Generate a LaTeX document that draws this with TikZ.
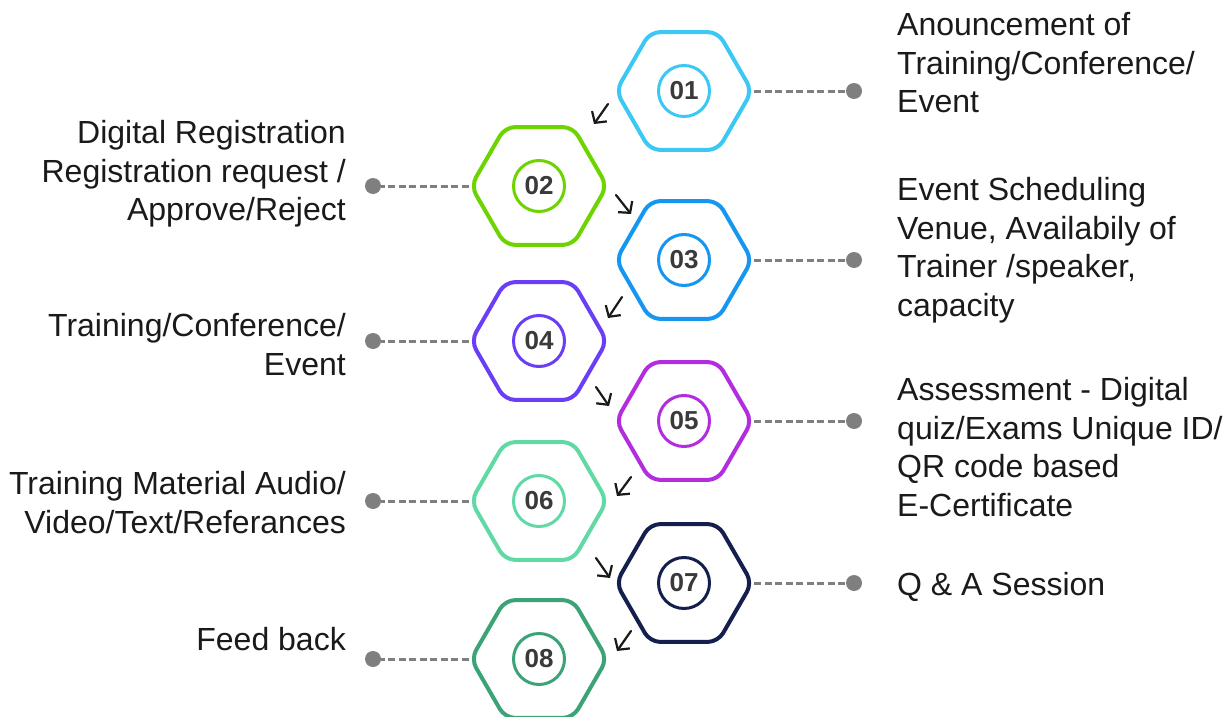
\documentclass[tikz,border=0pt]{standalone}
\usepackage{fontspec}
\setmainfont{Liberation Sans}
\usepackage{xcolor}
\usetikzlibrary{shapes.geometric,arrows.meta}
\definecolor{sky}{HTML}{3CC8F5}
\definecolor{lime}{HTML}{6DD400}
\definecolor{azure}{HTML}{1496F1}
\definecolor{violet}{HTML}{6A3DF7}
\definecolor{orchid}{HTML}{B12DDF}
\definecolor{mint}{HTML}{60D9A5}
\definecolor{navy}{HTML}{151F4E}
\definecolor{jade}{HTML}{3BA375}
\definecolor{grey}{HTML}{7F7F7F}
\definecolor{ink}{HTML}{1A1A1A}
\definecolor{num}{HTML}{3A3A3A}
\tikzset{
  hex/.style={regular polygon, regular polygon sides=6, minimum size=136pt, inner sep=0pt, line width=4pt, rounded corners=10pt},
  ring/.style={circle, minimum size=51pt, inner sep=0pt, line width=3pt, text=num, font=\fontsize{26}{30}\selectfont\bfseries},
  lead/.style={draw=grey, dash pattern=on 7pt off 3.5pt, line width=3pt},
  dot/.style={circle, fill=grey, inner sep=0pt, minimum size=16pt},
  flow/.style={draw=ink, line width=2.2pt, line cap=round, -{Straight Barb[length=8pt,width=18pt]}},
  lab/.style={text=ink, font=\fontsize{32}{38.7}\selectfont, inner sep=0pt},
}
\begin{document}
\begin{tikzpicture}[x=1pt,y=-1pt]
  \useasboundingbox[fill=white] (0,0) rectangle (1229,717);

  % hexagons: right column at 684, left column at 539
  \node[hex,draw=sky]    (h1) at (684,91)  {};
  \node[hex,draw=lime]   (h2) at (539,186) {};
  \node[hex,draw=azure]  (h3) at (684,260) {};
  \node[hex,draw=violet] (h4) at (539,341) {};
  \node[hex,draw=orchid] (h5) at (684,421) {};
  \node[hex,draw=mint]   (h6) at (539,501) {};
  \node[hex,draw=navy]   (h7) at (684,583) {};
  \node[hex,draw=jade]   (h8) at (539,659) {};

  \node[ring,draw=sky]    (n1) at (h1) {01};
  \node[ring,draw=lime]   (n2) at (h2) {02};
  \node[ring,draw=azure]  (n3) at (h3) {03};
  \node[ring,draw=violet] (n4) at (h4) {04};
  \node[ring,draw=orchid] (n5) at (h5) {05};
  \node[ring,draw=mint]   (n6) at (h6) {06};
  \node[ring,draw=navy]   (n7) at (h7) {07};
  \node[ring,draw=jade]   (n8) at (h8) {08};

  % leaders
  \foreach \i/\y in {1/91,3/260,5/421,7/583}{
    \node[dot] (d\i) at (854,\y) {};
    \draw[lead] (h\i.east) -- (d\i);
  }
  \foreach \i/\y in {2/186,4/341,6/501,8/659}{
    \node[dot] (d\i) at (373,\y) {};
    \draw[lead] (h\i.west) -- (d\i);
  }

  % small step arrows
  \foreach \i/\sx/\sy/\ex/\ey in {1/608/104/594/124, 2/616/195/631/214, 3/622/297/608/318,
      4/596/387/609/406, 5/631/477/617/496, 6/596/558/610/578, 7/631/631/617/651}{
    \coordinate (a\i s) at (\sx,\sy);
    \coordinate (a\i e) at (\ex,\ey);
    \draw[flow] (a\i s) -- (a\i e);
  }

  % labels (base = baseline of the last line)
  \node[lab, anchor=base west, align=left]  (t1) at (897,112.9) {Anouncement of\\Training/Conference/\\Event};
  \node[lab, anchor=base east, align=right] (t2) at (346,220.9) {Digital Registration\\Registration request /\\Approve/Reject};
  \node[lab, anchor=base west, align=left]  (t3) at (897,316.6) {Event Scheduling\\Venue, Availabily of\\Trainer /speaker,\\capacity};
  \node[lab, anchor=base east, align=right] (t4) at (346,375.2) {Training/Conference/\\Event};
  \node[lab, anchor=base west, align=left]  (t5) at (897,516.6) {Assessment - Digital\\quiz/Exams Unique ID/\\QR code based\\E-Certificate};
  \node[lab, anchor=base east, align=right] (t6) at (346,533.2) {Training Material Audio/\\Video/Text/Referances};
  \node[lab, anchor=base west, align=left]  (t7) at (897,595.5) {Q \& A Session};
  \node[lab, anchor=base east, align=right] (t8) at (346,650.5) {Feed back};
\end{tikzpicture}
\end{document}
